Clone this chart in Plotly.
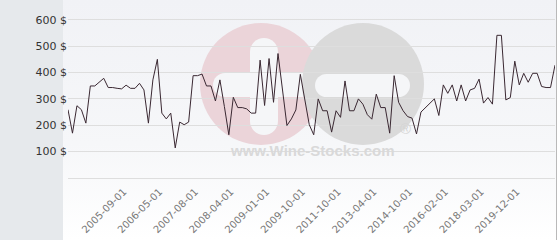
import base64
import plotly.graph_objects as go

dates = [
    "2004-09-01", "2004-10-01", "2004-11-01", "2004-12-01", "2005-01-01", "2005-02-01",
    "2005-03-01", "2005-04-01", "2005-05-01", "2005-06-01", "2005-07-01", "2005-08-01",
    "2005-09-01", "2005-10-01", "2005-11-01", "2005-12-01", "2006-01-01", "2006-02-01", "2006-03-01", "2006-04-01",
    "2006-05-01", "2006-07-01", "2006-09-01", "2006-11-01", "2007-01-01", "2007-03-01", "2007-05-01", "2007-06-01",
    "2007-08-01", "2007-09-01", "2007-10-01", "2007-11-01", "2007-12-01", "2008-01-01", "2008-02-01", "2008-03-01",
    "2008-04-01", "2008-05-01", "2008-06-01", "2008-07-01", "2008-08-01", "2008-09-01", "2008-10-01", "2008-12-01",
    "2009-01-01", "2009-02-01", "2009-03-01", "2009-04-01", "2009-05-01", "2009-06-01", "2009-07-01", "2009-09-01",
    "2009-10-01", "2010-01-01", "2010-04-01", "2010-07-01", "2010-10-01", "2011-01-01", "2011-04-01", "2011-07-01",
    "2011-10-01", "2012-01-01", "2012-03-01", "2012-05-01", "2012-07-01", "2012-09-01", "2012-11-01", "2013-02-01",
    "2013-04-01", "2013-06-01", "2013-09-01", "2013-11-01", "2014-01-01", "2014-04-01", "2014-06-01", "2014-08-01",
    "2014-10-01", "2015-01-01", "2015-03-01", "2015-05-01", "2015-07-01", "2015-09-01", "2015-11-01", "2016-01-01",
    "2016-02-01", "2016-06-01", "2016-09-01", "2016-12-01", "2017-03-01", "2017-06-01", "2017-09-01", "2017-12-01",
    "2018-03-01", "2018-06-01", "2018-09-01", "2018-11-01", "2019-01-01", "2019-04-01", "2019-07-01", "2019-10-01",
    "2019-12-01", "2020-03-01", "2020-06-01", "2020-09-01", "2020-12-01", "2021-03-01", "2021-06-01", "2021-09-01",
    "2021-12-01", "2022-03-01",
]

prices = [
    259, 170, 274, 259, 208, 349, 349, 363, 378, 343,
    343, 340, 338, 352, 340, 340, 359, 334, 208, 372,
    450, 246, 224, 246, 114, 212, 202, 212, 388, 388,
    394, 349, 349, 292, 372, 271, 164, 306, 267, 267,
    262, 246, 246, 447, 275, 453, 287, 472, 327, 199,
    224, 258, 393, 292, 202, 164, 300, 255, 255, 174,
    255, 230, 368, 255, 255, 300, 280, 240, 223, 318,
    267, 267, 170, 388, 287, 255, 233, 227, 167, 250,
    267, 283, 300, 237, 353, 321, 353, 292, 353, 292,
    334, 340, 375, 284, 305, 280, 541, 541, 296, 305,
    443, 353, 397, 363, 397, 397, 347, 343, 343, 428,
]

tick_dates = [
    "2005-09-01", "2006-05-01", "2007-08-01", "2008-04-01", "2009-01-01", "2009-10-01",
    "2011-10-01", "2013-04-01", "2014-10-01", "2016-02-01", "2018-03-01", "2019-12-01",
]

y_ticks = [100, 200, 300, 400, 500, 600]
y_tick_text = ["100 $", "200 $", "300 $", "400 $", "500 $", "600 $"]

W, H = 560, 240
PL, PR, PT, PB = 68, 555, 10, 178


def X(px):
    return (px - PL) / (PR - PL)


def Y(py):
    return (PB - py) / (PB - PT)


bg_svg = f"""<svg xmlns='http://www.w3.org/2000/svg' width='{W}' height='{H}' viewBox='0 0 {W} {H}' preserveAspectRatio='none'>
<defs><linearGradient id='g' x1='0' y1='0' x2='0' y2='1'>
<stop offset='0' stop-color='#f1f2f6'/><stop offset='0.6' stop-color='#f6f7f9'/><stop offset='1' stop-color='#ffffff'/>
</linearGradient></defs>
<rect x='0' y='0' width='{W}' height='{H}' fill='#ffffff'/>
<rect x='0' y='0' width='63' height='{H}' fill='#e6e9ec'/>
<rect x='63' y='0' width='493' height='{H}' fill='url(#g)'/>
<rect x='556' y='0' width='1' height='{H}' fill='#b9b9b9'/>
</svg>"""
bg_src = "data:image/svg+xml;base64," + base64.b64encode(bg_svg.encode()).decode()

fig = go.Figure()
fig.add_trace(go.Scatter(
    x=dates, y=prices, mode="lines",
    line=dict(color="#3a2832", width=1),
    hoverinfo="skip", showlegend=False,
))

shapes = []


def circ(x0, y0, x1, y1, color):
    shapes.append(dict(type="circle", xref="paper", yref="paper",
                       x0=X(x0), x1=X(x1), y0=Y(y1), y1=Y(y0),
                       fillcolor=color, line=dict(width=0), layer="below"))


def rect(x0, y0, x1, y1, color):
    shapes.append(dict(type="rect", xref="paper", yref="paper",
                       x0=X(x0), x1=X(x1), y0=Y(y1), y1=Y(y0),
                       fillcolor=color, line=dict(width=0), layer="below"))


PINK = "#ebd4d9"
GREY = "#dadada"
WH = "#f5f6f8"
circ(200, 23, 322, 145, PINK)
rect(250, 52, 278, 121, WH)
circ(250, 38, 278, 66, WH)
circ(250, 107, 278, 135, WH)
rect(225, 73, 305, 97, WH)
circ(213, 73, 237, 97, WH)
circ(302, 23, 424, 145, GREY)
rect(326.5, 74, 398.5, 97, WH)
circ(315, 74, 338, 97, WH)
circ(387, 74, 410, 97, WH)

fig.update_layout(
    width=W, height=H,
    margin=dict(l=PL, r=W - PR, t=PT, b=H - PB),
    paper_bgcolor="#ffffff",
    plot_bgcolor="rgba(0,0,0,0)",
    images=[dict(source=bg_src, xref="paper", yref="paper",
                 x=X(0), y=Y(0), sizex=X(W) - X(0), sizey=Y(0) - Y(H),
                 xanchor="left", yanchor="top", sizing="stretch", layer="below")],
    shapes=shapes,
    annotations=[
        dict(text="<b>www.Wine-Stocks.com</b>", xref="paper", yref="paper",
             x=X(312), y=Y(161), showarrow=False,
             font=dict(family="Liberation Sans, Arial", size=15, color="#d9d9d9")),
        dict(text="®", xref="paper", yref="paper",
             x=X(413), y=Y(139), showarrow=False,
             font=dict(family="Liberation Sans, Arial", size=15, color="#d4d4d4")),
    ],
    xaxis=dict(
        type="category", range=[0, len(dates) - 1],
        tickmode="array", tickvals=tick_dates, ticktext=tick_dates,
        tickangle=-45, showgrid=False, zeroline=False, showline=False, ticks="",
        ticklabelstandoff=5, ticklabelshift=2,
        tickfont=dict(family="DejaVu Sans", size=10, color="#777777"),
    ),
    yaxis=dict(
        range=[0, 637], tickmode="array", tickvals=y_ticks, ticktext=y_tick_text,
        showgrid=True, gridcolor="#dedede", gridwidth=1,
        zeroline=True, zerolinecolor="#dedede", zerolinewidth=1,
        showline=False, ticks="",
        tickfont=dict(family="DejaVu Sans", size=11, color="#333333"),
    ),
    hovermode=False,
)

fig.write_html("out.html")
